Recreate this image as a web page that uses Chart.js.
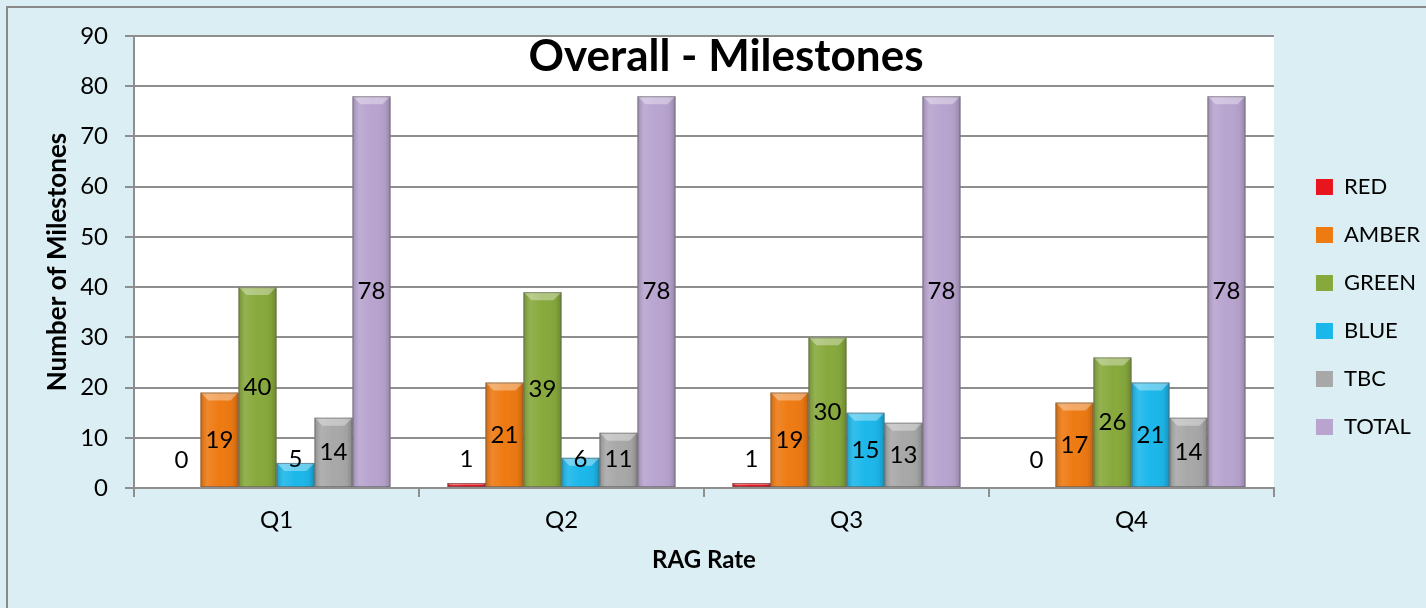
<!DOCTYPE html>
<html>
<head>
<meta charset="utf-8">
<title>Overall - Milestones</title>
<script src="https://cdn.jsdelivr.net/npm/chart.js@4.4.1/dist/chart.umd.min.js"></script>
<style>
  html, body { margin: 0; padding: 0; background: #DAEEF3; }
  canvas { display: block; }
</style>
</head>
<body>
<canvas id="milestones" width="1426" height="608"></canvas>
<script>
// ---- data ----
const quarters = ['Q1', 'Q2', 'Q3', 'Q4'];
const redCounts = [0, 1, 1, 0];
const amberCounts = [19, 21, 19, 17];
const greenCounts = [40, 39, 30, 26];
const blueCounts = [5, 6, 15, 21];
const tbcCounts = [14, 11, 13, 14];
const totalCounts = [78, 78, 78, 78];
const seriesNames = ['RED', 'AMBER', 'GREEN', 'BLUE', 'TBC', 'TOTAL'];
const yMin = 0, yMax = 90, yStep = 10;
const chartTitle = 'Overall - Milestones';
const xTitle = 'RAG Rate';
const yTitle = 'Number of Milestones';

// ---- styling ----
const FONT = "Lato, 'Noto Sans', 'DejaVu Sans', sans-serif";
const seriesColors = ['#E8141E', '#EE7A12', '#87A93C', '#1CB7EA', '#A8A8A8', '#B8A4CF'];
const GRID = '#8E8E8E';

const seriesValues = [redCounts, amberCounts, greenCounts, blueCounts, tbcCounts, totalCounts];

// page background, outer frame and white plot area
const frame = {
  id: 'frame',
  beforeDraw(chart) {
    const { ctx, chartArea: a, width, height } = chart;
    ctx.save();
    ctx.fillStyle = '#DAEEF3';
    ctx.fillRect(0, 0, width, height);
    ctx.fillStyle = '#8A8A8A';
    ctx.fillRect(6, 6, width, 2);
    ctx.fillRect(6, 6, 2, height);
    ctx.fillStyle = '#FFFFFF';
    ctx.fillRect(a.left, a.top, a.right - a.left, a.bottom - a.top);
    ctx.restore();
  }
};

// soft bevel on each bar, then the value labels
const barDecor = {
  id: 'barDecor',
  afterDatasetsDraw(chart) {
    const { ctx } = chart;
    ctx.save();
    chart.data.datasets.forEach((ds, di) => {
      const meta = chart.getDatasetMeta(di);
      meta.data.forEach((el) => {
        const { x, y, base, width } = el.getProps(['x', 'y', 'base', 'width'], true);
        const left = x - width / 2, right = x + width / 2;
        const top = Math.min(y, base), bottom = Math.max(y, base);
        const h = bottom - top;
        if (h < 1) return;
        const g = ctx.createLinearGradient(left, 0, right, 0);
        g.addColorStop(0, 'rgba(0,0,0,0.16)');
        g.addColorStop(0.18, 'rgba(255,255,255,0.10)');
        g.addColorStop(0.5, 'rgba(255,255,255,0)');
        g.addColorStop(0.85, 'rgba(0,0,0,0.04)');
        g.addColorStop(1, 'rgba(0,0,0,0.20)');
        ctx.fillStyle = g;
        ctx.fillRect(left, top, width, h);
        const b = Math.min(8, h / 2, width / 4);
        ctx.fillStyle = 'rgba(255,255,255,0.35)';
        ctx.beginPath();
        ctx.moveTo(left, top);
        ctx.lineTo(right, top);
        ctx.lineTo(right - b, top + b);
        ctx.lineTo(left + b, top + b);
        ctx.closePath();
        ctx.fill();
        ctx.strokeStyle = 'rgba(90,90,90,0.55)';
        ctx.lineWidth = 1;
        ctx.strokeRect(left + 0.5, top + 0.5, width - 1, h - 1);
      });
    });
    ctx.fillStyle = '#000000';
    ctx.font = '24px ' + FONT;
    ctx.textAlign = 'center';
    ctx.textBaseline = 'middle';
    chart.data.datasets.forEach((ds, di) => {
      const meta = chart.getDatasetMeta(di);
      meta.data.forEach((el, i) => {
        const { x, y, base } = el.getProps(['x', 'y', 'base'], true);
        const mid = (y + base) / 2;
        const ly = Math.min(mid, base - 28);
        ctx.fillText(String(ds.data[i]), x, ly);
      });
    });
    ctx.restore();
  }
};

// heading drawn over the top of the plot area
const heading = {
  id: 'heading',
  afterDraw(chart) {
    const { ctx, chartArea: a } = chart;
    ctx.save();
    ctx.fillStyle = '#000000';
    ctx.font = 'bold 44px ' + FONT;
    ctx.textAlign = 'center';
    ctx.textBaseline = 'middle';
    ctx.fillText(chartTitle, (a.left + a.right) / 2 + 22, a.top + 21);
    ctx.restore();
  }
};

// move the legend column a little away from the plot area
const legendShift = {
  id: 'legendShift',
  afterLayout(chart) {
    const lg = chart.legend;
    if (lg) { lg.left += 16; lg.right += 16; }
  }
};

const datasets = seriesNames.map((name, i) => ({
  label: name,
  data: seriesValues[i],
  backgroundColor: seriesColors[i],
  borderColor: 'rgba(90,90,90,0.55)',
  borderWidth: 0,
  categoryPercentage: 0.8,
  barPercentage: 1.0
}));

new Chart(document.getElementById('milestones'), {
  type: 'bar',
  data: { labels: quarters, datasets },
  plugins: [frame, barDecor, heading, legendShift],
  options: {
    responsive: false,
    animation: false,
    devicePixelRatio: 1,
    layout: { padding: { top: 36, bottom: 30, left: 0, right: 12 } },
    plugins: {
      title: { display: false },
      tooltip: { enabled: false },
      legend: {
        position: 'right',
        labels: {
          color: '#000000',
          font: { family: FONT, size: 22 },
          boxWidth: 17,
          boxHeight: 16,
          padding: 26
        }
      }
    },
    scales: {
      x: {
        afterFit(scale) { scale.height = 90; },
        grid: {
          display: true,
          drawOnChartArea: false,
          drawTicks: true,
          tickLength: 9,
          color: GRID,
          lineWidth: 2
        },
        border: { display: true, color: GRID, width: 2 },
        ticks: { color: '#000000', font: { family: FONT, size: 24 }, padding: 9 },
        title: {
          display: true,
          text: xTitle,
          color: '#000000',
          font: { family: FONT, size: 24, weight: 'bold' },
          padding: { top: 0, bottom: 3 }
        }
      },
      y: {
        min: yMin,
        max: yMax,
        afterFit(scale) { scale.width = 134; },
        grid: { color: GRID, lineWidth: 2, tickLength: 9, drawTicks: true },
        border: { display: true, color: GRID, width: 2 },
        ticks: { stepSize: yStep, color: '#000000', font: { family: FONT, size: 24 }, padding: 17 },
        title: {
          display: true,
          text: yTitle,
          color: '#000000',
          font: { family: FONT, size: 26, weight: 'bold' },
          padding: { top: 42, bottom: 0 }
        }
      }
    }
  }
});
</script>
</body>
</html>
